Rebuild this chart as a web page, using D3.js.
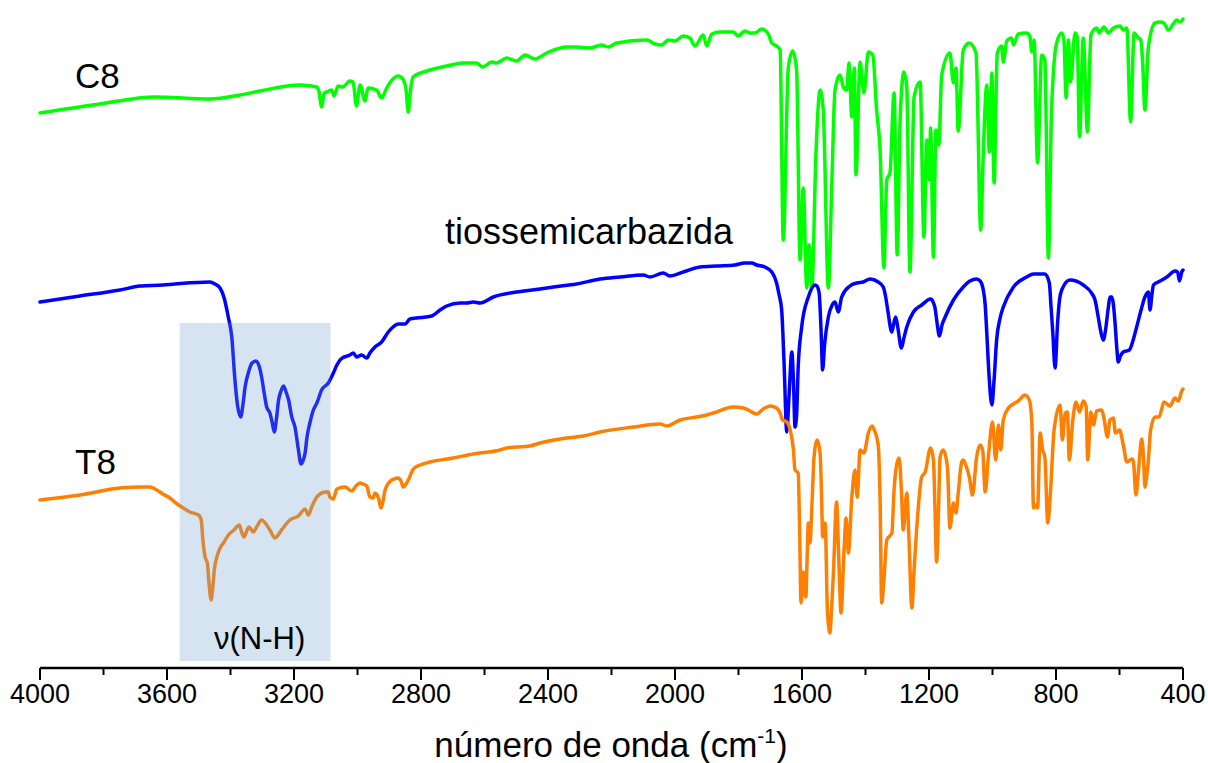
<!DOCTYPE html>
<html><head><meta charset="utf-8">
<script src="https://cdn.jsdelivr.net/npm/d3@7/dist/d3.min.js"></script>
<style>body{margin:0;background:#fff}svg{display:block}text{font-family:Arial,"Liberation Sans",sans-serif}</style>
</head><body>
<svg id="chart" width="1208" height="763"></svg>
<script>
// wavenumber (cm-1), transmittance (arbitrary units, offset spectra)
const c8Data = [[4000,555],[3811,564],[3638,571],[3465,569],[3370,573],[3307,577],[3181,583],[3128,581],[3121,576],[3113,561],[3105,575],[3097,576],[3081,578],[3074,572],[3061,582],[3046,581],[3024,587],[3014,586],[3003,562],[2992,583],[2976,567],[2967,580],[2940,578],[2924,570],[2908,580],[2891,588],[2872,592],[2857,589],[2847,578],[2840,556],[2833,578],[2825,591],[2782,597],[2719,602],[2668,605],[2625,605],[2606,601],[2577,606],[2562,605],[2530,610],[2499,607],[2472,613],[2441,609],[2404,615],[2341,621],[2310,621],[2268,620],[2231,623],[2210,621],[2184,625],[2089,628],[2063,624],[2042,623],[2021,628],[2000,627],[1974,632],[1953,630],[1937,622],[1911,633],[1900,622],[1884,634],[1858,636],[1816,636],[1801,632],[1780,637],[1764,635],[1748,635],[1727,639],[1706,634],[1695,625],[1680,622],[1669,618],[1659,428],[1643,601],[1629,617],[1617,598],[1606,408],[1596,480],[1585,380],[1578,423],[1569,381],[1556,515],[1543,578],[1533,558],[1517,380],[1506,485],[1496,578],[1480,593],[1470,581],[1459,578],[1452,605],[1443,551],[1435,600],[1430,493],[1417,606],[1405,575],[1391,616],[1377,613],[1365,558],[1354,518],[1342,400],[1333,488],[1323,495],[1310,575],[1300,413],[1291,548],[1279,596],[1270,581],[1260,396],[1247,571],[1228,586],[1216,431],[1207,528],[1199,488],[1195,540],[1186,411],[1178,538],[1169,523],[1160,593],[1134,615],[1123,585],[1115,600],[1108,537],[1092,618],[1073,625],[1052,615],[1037,438],[1029,515],[1018,583],[1010,516],[1002,595],[995,485],[985,615],[971,622],[966,606],[955,627],[940,630],[934,623],[919,634],[892,635],[882,631],[876,616],[869,628],[858,505],[845,613],[835,608],[824,410],[814,558],[798,625],[782,635],[775,628],[768,570],[761,628],[754,586],[740,635],[733,631],[726,531],[714,630],[701,536],[690,633],[672,640],[664,635],[649,641],[635,635],[619,640],[598,642],[588,638],[577,640],[565,546],[554,635],[541,630],[533,628],[527,605],[520,558],[509,621],[488,645],[472,646],[460,645],[446,638],[431,644],[420,648],[409,646],[400,649]];

const tioData = [[4000,366],[3874,372],[3748,378],[3685,382],[3613,383],[3575,384],[3465,386],[3449,384],[3433,380],[3420,370],[3407,351],[3396,331],[3386,288],[3378,263],[3368,251],[3361,263],[3354,281],[3344,295],[3332,305],[3320,307],[3310,302],[3302,291],[3294,275],[3286,261],[3276,255],[3269,246],[3262,236],[3255,250],[3249,267],[3241,277],[3233,282],[3225,276],[3217,268],[3207,251],[3197,241],[3186,218],[3178,204],[3172,207],[3165,215],[3159,231],[3150,245],[3139,258],[3128,265],[3113,278],[3092,285],[3076,295],[3065,303],[3052,309],[3024,313],[3013,315],[3003,311],[2987,313],[2971,310],[2961,315],[2945,321],[2924,326],[2903,336],[2888,341],[2871,344],[2850,344],[2835,349],[2814,350],[2766,352],[2740,358],[2719,362],[2677,365],[2656,365],[2635,366],[2614,365],[2572,371],[2499,376],[2425,379],[2383,381],[2310,384],[2236,389],[2173,391],[2100,393],[2079,391],[2037,395],[2016,392],[1974,396],[1921,401],[1869,402],[1811,403],[1780,405],[1758,405],[1743,403],[1717,401],[1695,396],[1680,385],[1672,373],[1664,358],[1660,333],[1656,301],[1648,236],[1641,271],[1632,316],[1627,288],[1622,241],[1617,253],[1612,301],[1601,341],[1580,371],[1559,383],[1553,382],[1546,375],[1540,338],[1535,298],[1529,323],[1517,351],[1505,363],[1496,366],[1486,356],[1475,371],[1449,382],[1427,385],[1407,386],[1386,389],[1360,386],[1344,381],[1337,372],[1330,358],[1317,336],[1312,343],[1305,351],[1298,340],[1287,320],[1279,330],[1270,341],[1249,356],[1223,363],[1195,369],[1187,366],[1181,360],[1175,346],[1167,332],[1159,343],[1149,351],[1123,368],[1092,381],[1071,387],[1050,389],[1039,387],[1029,378],[1023,363],[1018,335],[1011,293],[1002,263],[995,288],[987,328],[976,350],[966,361],[934,381],[892,391],[871,394],[835,394],[821,385],[816,363],[810,335],[803,300],[795,345],[789,368],[782,378],[756,388],[714,383],[688,375],[677,368],[667,351],[658,335],[651,328],[644,338],[635,361],[630,371],[624,371],[619,363],[614,345],[608,318],[604,306],[597,312],[588,316],[569,318],[557,328],[546,341],[532,358],[520,371],[509,376],[504,358],[498,373],[493,383],[472,387],[451,391],[425,397],[417,396],[411,387],[404,396],[400,398]];

const t8Data = [[4000,168],[3874,173],[3748,180],[3675,181],[3654,181],[3632,178],[3613,174],[3591,170],[3572,165],[3549,160],[3528,156],[3501,153],[3494,150],[3491,145],[3487,128],[3480,111],[3473,105],[3468,86],[3461,68],[3456,80],[3451,98],[3442,112],[3433,120],[3420,126],[3407,133],[3389,138],[3372,143],[3365,136],[3357,131],[3349,137],[3342,141],[3328,136],[3316,142],[3302,148],[3286,143],[3276,138],[3260,130],[3250,133],[3239,138],[3213,148],[3186,152],[3165,159],[3155,153],[3143,162],[3128,171],[3118,174],[3102,176],[3092,176],[3087,171],[3076,169],[3065,179],[3039,181],[3018,177],[3005,182],[2992,185],[2983,184],[2971,182],[2961,171],[2951,170],[2945,175],[2934,170],[2926,160],[2920,166],[2913,178],[2892,188],[2871,190],[2863,187],[2856,181],[2847,184],[2840,188],[2824,199],[2803,203],[2772,206],[2698,210],[2635,214],[2551,218],[2530,220],[2457,222],[2425,225],[2341,230],[2289,232],[2236,236],[2131,241],[2047,244],[2026,242],[1984,248],[1932,251],[1900,253],[1879,255],[1816,261],[1785,260],[1769,258],[1743,254],[1722,259],[1701,262],[1680,260],[1669,255],[1661,248],[1648,246],[1635,235],[1627,218],[1622,198],[1612,195],[1608,148],[1603,65],[1596,96],[1588,71],[1584,108],[1580,145],[1575,125],[1568,168],[1562,211],[1552,228],[1543,215],[1538,168],[1535,131],[1527,145],[1520,58],[1512,35],[1507,58],[1501,95],[1491,166],[1485,118],[1477,55],[1468,115],[1461,150],[1454,115],[1443,171],[1433,198],[1426,171],[1417,218],[1405,215],[1391,235],[1379,242],[1370,236],[1360,223],[1354,168],[1349,65],[1342,88],[1333,128],[1317,135],[1310,178],[1302,203],[1294,210],[1287,178],[1281,138],[1270,175],[1263,128],[1254,60],[1247,98],[1239,138],[1223,191],[1212,196],[1195,220],[1186,208],[1181,158],[1176,106],[1170,158],[1165,211],[1155,218],[1142,201],[1134,140],[1123,165],[1115,155],[1108,175],[1097,206],[1092,208],[1081,200],[1073,191],[1063,173],[1050,211],[1039,223],[1031,218],[1023,176],[1013,211],[1000,246],[990,208],[981,243],[974,218],[966,248],[950,260],[934,264],[919,267],[898,273],[884,268],[876,245],[871,160],[863,163],[858,160],[850,235],[842,218],[835,211],[826,145],[817,178],[806,238],[787,263],[780,228],[771,255],[764,256],[758,208],[747,248],[737,266],[726,256],[714,267],[705,261],[700,208],[690,256],[682,243],[672,257],[656,258],[649,250],[638,231],[630,248],[619,250],[613,235],[600,238],[588,223],[577,206],[561,209],[556,206],[548,173],[540,198],[530,229],[524,208],[520,181],[514,193],[509,208],[502,238],[488,251],[475,251],[460,266],[441,262],[425,270],[415,267],[404,277],[400,279]];

const xTicks = [4000,3600,3200,2800,2400,2000,1600,1200,800,400];
const xMinorTicks = [3800,3400,3000,2600,2200,1800,1400,1000,600];
const seriesNames = ["C8","tiossemicarbazida","T8"];
const seriesColors = ["#00ff00","#0000ff","#ff7f00"];
const bandRange = [3560,3085]; // highlighted N-H stretch region (cm-1)
const bandLabel = "ν(N-H)";

const svg = d3.select("#chart");
const x = d3.scaleLinear().domain([4000,400]).range([40,1183]);
const y = d3.scaleLinear().domain([0,658]).range([668,10]);

const line = d3.line().x(d=>x(d[0])).y(d=>y(d[1])).curve(d3.curveMonotoneX);
[c8Data,tioData,t8Data].forEach((data,i)=>{
  svg.append("path").datum(data).attr("d",line)
    .attr("fill","none").attr("stroke",seriesColors[i])
    .attr("stroke-width",3.5).attr("stroke-linejoin","round").attr("stroke-linecap","round");
});

// highlight band
svg.append("rect")
  .attr("x",x(bandRange[0])).attr("width",x(bandRange[1])-x(bandRange[0]))
  .attr("y",y(345)).attr("height",y(7)-y(345))
  .attr("fill","#72a2d2").attr("fill-opacity",0.29);

// labels
svg.append("text").attr("x",75).attr("y",88).attr("font-size",35).text(seriesNames[0]);
svg.append("text").attr("x",445).attr("y",244).attr("font-size",36).text(seriesNames[1]);
svg.append("text").attr("x",75).attr("y",474).attr("font-size",35).text(seriesNames[2]);
svg.append("text").attr("x",214).attr("y",649).attr("font-size",31).text(bandLabel);

// x axis
const axis = svg.append("g").attr("transform","translate(0,668)");
axis.append("line").attr("x1",x(4000)).attr("x2",x(400)).attr("stroke","#000").attr("stroke-width",2.5);
axis.selectAll(".maj").data(xTicks).enter().append("line")
  .attr("x1",d=>x(d)).attr("x2",d=>x(d)).attr("y1",0).attr("y2",12).attr("stroke","#000").attr("stroke-width",2);
axis.selectAll(".min").data(xMinorTicks).enter().append("line")
  .attr("x1",d=>x(d)).attr("x2",d=>x(d)).attr("y1",0).attr("y2",7).attr("stroke","#000").attr("stroke-width",2);
axis.selectAll(".lbl").data(xTicks).enter().append("text")
  .attr("x",d=>x(d)).attr("y",35).attr("text-anchor","middle").attr("font-size",27).text(d=>d);

const title = svg.append("text").attr("x",611).attr("y",757).attr("text-anchor","middle").attr("font-size",35);
title.append("tspan").text("número de onda (cm");
title.append("tspan").attr("font-size",21).attr("dy",-14).text("-1");
title.append("tspan").attr("dy",14).text(")");
</script>
</body></html>
